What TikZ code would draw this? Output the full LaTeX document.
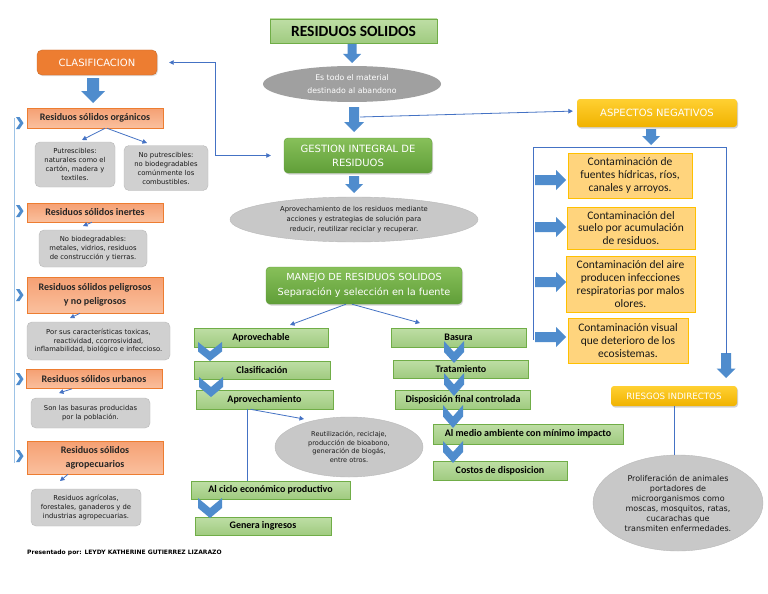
\documentclass[tikz,border=0pt]{standalone}
\usepackage{fontspec}
\setmainfont{Carlito}
\newfontfamily\dv{DejaVu Sans}
\newfontfamily\cb{Carlito}
\usetikzlibrary{shadows,arrows.meta,shapes.geometric}
\definecolor{gborder}{RGB}{112,173,71}
\definecolor{gtop}{RGB}{190,222,165}
\definecolor{gbot}{RGB}{160,203,128}
\definecolor{dgtop}{RGB}{135,192,90}
\definecolor{dgbot}{RGB}{96,158,56}
\definecolor{orangeC}{RGB}{237,125,49}
\definecolor{salmtop}{RGB}{245,160,115}
\definecolor{salmbot}{RGB}{250,192,158}
\definecolor{grayfill}{RGB}{208,208,208}
\definecolor{grayline}{RGB}{185,185,185}
\definecolor{dgray}{RGB}{160,160,160}
\definecolor{lgray}{RGB}{200,200,200}
\definecolor{yelltop}{RGB}{255,208,50}
\definecolor{yellbot}{RGB}{240,178,0}
\definecolor{lorange}{RGB}{255,212,125}
\definecolor{gold}{RGB}{255,192,0}
\definecolor{bluefillC}{RGB}{79,140,205}
\definecolor{lineblue}{RGB}{68,114,196}
\definecolor{lightblue}{RGB}{157,195,230}
\newcommand\bdown[5]{\fill[bluefillC] ({#1-#4},#2) -- ({#1+#4},#2) -- ({#1+#4},{#3-#5}) -- ({#1+#5},{#3-#5}) -- (#1,#3) -- ({#1-#5},{#3-#5}) -- ({#1-#4},{#3-#5}) -- cycle;}
\newcommand\bright[5]{\fill[bluefillC] (#2,{#1-#4}) -- ({#3-#5},{#1-#4}) -- ({#3-#5},{#1-#5}) -- (#3,#1) -- ({#3-#5},{#1+#5}) -- ({#3-#5},{#1+#4}) -- (#2,{#1+#4}) -- cycle;}
\newcommand\chev[4]{\fill[bluefillC] ({#1-#3},#2) -- (#1,{#2+#4*0.5}) -- ({#1+#3},#2) -- ({#1+#3},{#2+#4*0.5}) -- (#1,{#2+#4}) -- ({#1-#3},{#2+#4*0.5}) -- cycle;}
\newcommand\rchev[2]{\fill[bluefillC] (#1,{#2-6}) -- ({#1+3.5},{#2-6}) -- ({#1+7.5},#2) -- ({#1+3.5},{#2+6}) -- (#1,{#2+6}) -- ({#1+4},#2) -- cycle;}
\begin{document}
\begin{tikzpicture}[x=1pt,y=-1pt,
  every node/.style={inner sep=1pt, align=center},
  gbox/.style={rectangle, draw=gborder, line width=0.6pt, top color=gtop, bottom color=gbot, text=black, font={\cb\bfseries\fontsize{10}{11}\selectfont}},
  dgbox/.style={rectangle, rounded corners=4pt, draw=dgbot, top color=dgtop, bottom color=dgbot, text=white, font={\dv\fontsize{10}{14}\selectfont}, drop shadow={opacity=0.35, shadow xshift=1pt, shadow yshift=-1.5pt}},
  sbox/.style={rectangle, draw=orangeC, line width=0.6pt, top color=salmtop, bottom color=salmbot, text=black!85, font={\cb\bfseries\fontsize{10}{14.3}\selectfont}},
  graybox/.style={rectangle, rounded corners=5pt, draw=grayline, fill=grayfill, text=black!90, font={\dv\fontsize{6.8}{9}\selectfont}},
  ell/.style={ellipse, fill=lgray, draw=grayline, text=black!90, font={\dv\fontsize{6.8}{10}\selectfont}, inner sep=0pt},
  obox/.style={rectangle, draw=gold, line width=0.6pt, fill=lorange, text=black!90, font={\cb\fontsize{11.5}{12.7}\selectfont}},
  ybox/.style={rectangle, rounded corners=3pt, top color=yelltop, bottom color=yellbot, text=white, font={\dv\fontsize{10}{11}\selectfont}, drop shadow={opacity=0.35, shadow xshift=1pt, shadow yshift=-1.5pt}},
  conn/.style={draw=lineblue, line width=0.8pt},
  tip/.style={-{Triangle[length=4.5pt,width=4.5pt]}},
]
\path[use as bounding box, fill=white] (0,0) rectangle (768,594);

% ---------------- centre column ----------------
\node[gbox, minimum width=167pt, minimum height=24pt, font={\cb\bfseries\fontsize{15.5}{17}\selectfont}] (title) at (353.5,31) {RESIDUOS SOLIDOS};
\node[ellipse, fill=dgray, text=white, font={\dv\fontsize{7.8}{12.5}\selectfont}, minimum width=178pt, minimum height=36pt, inner sep=0pt] (estodo) at (352,84) {Es todo el material\\destinado al abandono};
\node[dgbox, minimum width=148pt, minimum height=35pt] (gestion) at (358,155.5) {GESTION INTEGRAL DE\\RESIDUOS};
\node[ell, minimum width=248pt, minimum height=45pt] (aprovell) at (354,219.5) {Aprovechamiento de los residuos mediante\\acciones y estrategias de soluci\'on para\\reducir, reutilizar reciclar y recuperar.};
\node[dgbox, minimum width=196pt, minimum height=37pt, font={\dv\fontsize{9.7}{14.5}\selectfont}] (manejo) at (364,285.5) {MANEJO DE RESIDUOS SOLIDOS\\Separaci\'on y selecci\'on en la fuente};

\node[gbox, minimum width=134pt, minimum height=19pt] (aprovb) at (261,337.5) {Aprovechable};
\node[gbox, minimum width=136pt, minimum height=18pt] (clasifb) at (262,370) {Clasificaci\'on};
\node[gbox, minimum width=137pt, minimum height=19pt] (aprovm) at (264.5,399.5) {Aprovechamiento};
\node[ell, minimum width=148pt, minimum height=60pt, font={\dv\fontsize{6.6}{8.8}\selectfont}] (reuse) at (349,447) {Reutilizaci\'on, reciclaje,\\producci\'on de bioabono,\\generaci\'on de biog\'as,\\entre otros.};
\node[gbox, minimum width=159pt, minimum height=18pt] (ciclo) at (270.5,490) {Al ciclo econ\'omico productivo};
\node[gbox, minimum width=136pt, minimum height=18pt] (genera) at (263,526) {Genera ingresos};

\node[gbox, minimum width=135pt, minimum height=19pt] (basura) at (458.5,337.5) {Basura};
\node[gbox, minimum width=135pt, minimum height=18pt] (trat) at (461,369) {Tratamiento};
\node[gbox, minimum width=135pt, minimum height=19pt] (dispo) at (463,399.5) {Disposici\'on final controlada};
\node[gbox, minimum width=190pt, minimum height=20pt] (medio) at (528,434) {Al medio ambiente con m\'inimo impacto};
\node[gbox, minimum width=134pt, minimum height=19pt] (costos) at (500,470.5) {Costos de disposicion};

% ---------------- left column ----------------
\node[rectangle, rounded corners=5pt, fill=orangeC, draw=orangeC!85!black, line width=0.4pt, text=white, font={\dv\fontsize{10}{11}\selectfont}, minimum width=120pt, minimum height=25pt, drop shadow={opacity=0.25, shadow xshift=1pt, shadow yshift=-1.2pt}] (clasif) at (97,62.5) {CLASIFICACION};
\node[sbox, minimum width=136pt, minimum height=20pt] (org) at (95,118) {Residuos s\'olidos org\'anicos};
\node[graybox, minimum width=80pt, minimum height=45pt] (putr) at (75,164.5) {Putrescibles:\\naturales como el\\cart\'on, madera y\\textiles.};
\node[graybox, minimum width=84pt, minimum height=45pt] (noputr) at (166,168) {No putrescibles:\\no biodegradables\\com\'unmente los\\combustibles.};
\node[sbox, minimum width=136pt, minimum height=19pt] (inert) at (95,212.5) {Residuos s\'olidos inertes};
\node[graybox, minimum width=108pt, minimum height=37pt] (inertg) at (93,248.5) {No biodegradables:\\metales, vidrios, residuos\\de construcci\'on y tierras.};
\node[sbox, minimum width=136pt, minimum height=36pt] (pelig) at (95,295) {Residuos s\'olidos peligrosos\\y no peligrosos};
\node[graybox, minimum width=143pt, minimum height=38pt, font={\dv\fontsize{6.8}{8.4}\selectfont}] (peligg) at (98.5,341) {Por sus caracter\'isticas toxicas,\\reactividad, ccorrosividad,\\inflamabilidad, biol\'ogico e infeccioso.};
\node[sbox, minimum width=136pt, minimum height=19pt] (urb) at (94,379) {Residuos s\'olidos urbanos};
\node[graybox, minimum width=119pt, minimum height=30pt] (urbg) at (90.5,413) {Son las basuras producidas\\por la poblaci\'on.};
\node[sbox, minimum width=136pt, minimum height=33pt] (agro) at (95,457.5) {Residuos s\'olidos\\agropecuarios};
\node[graybox, minimum width=110pt, minimum height=37pt] (agrog) at (86,507.5) {Residuos agr\'icolas,\\forestales, ganaderos y de\\industrias agropecuarias.};
\node[anchor=west, inner sep=0pt, text=black, font={\dv\bfseries\fontsize{6}{7}\selectfont}] (footer) at (27,553) {Presentado por: LEYDY KATHERINE GUTIERREZ LIZARAZO};

% ---------------- right column ----------------
\node[ybox, minimum width=160pt, minimum height=28pt] (aspectos) at (657,113) {ASPECTOS NEGATIVOS};
\node[obox, minimum width=124pt, minimum height=45pt] (c1) at (630,175.5) {Contaminaci\'on de\\fuentes h\'idricas, r\'ios,\\canales y arroyos.};
\node[obox, minimum width=128pt, minimum height=42pt] (c2) at (631,228) {Contaminaci\'on del\\suelo por acumulaci\'on\\de residuos.};
\node[obox, minimum width=129pt, minimum height=56pt] (c3) at (630.5,284) {Contaminaci\'on del aire\\producen infecciones\\respiratorias por malos\\olores.};
\node[obox, minimum width=120pt, minimum height=45pt] (c4) at (628,340.5) {Contaminaci\'on visual\\que deterioro de los\\ecosistemas.};
\node[ybox, minimum width=126pt, minimum height=20pt, font={\dv\fontsize{8.7}{10}\selectfont}] (riesgos) at (674,396) {RIESGOS INDIRECTOS};
\node[ell, minimum width=170pt, minimum height=96pt, font={\dv\fontsize{8}{10}\selectfont}] (prolif) at (678,503) {Proliferaci\'on de animales\\portadores de\\microorganismos como\\moscas, mosquitos, ratas,\\cucarachas que\\transmiten enfermedades.};

% ---------------- block arrows and chevrons ----------------
\bdown{352}{44}{63}{4.5}{9}
\bdown{354}{107}{132}{5}{10}
\bdown{354}{176}{193}{5}{9}
\bdown{93}{78}{103}{6}{12}
\bdown{651}{129}{145}{5}{9}
\bdown{726}{353}{378}{5}{9.5}
\bright{180}{535}{566}{5}{10}
\bright{227}{535}{566}{5}{10}
\bright{282}{535}{566}{5}{10}
\bright{337}{535}{566}{5}{10}
\chev{210}{342}{12}{19}
\chev{211}{377}{12}{20}
\chev{210}{498}{12}{20}
\chev{454}{341}{10}{22}
\chev{454}{373}{10}{23}
\chev{453}{405}{10}{23}
\chev{453}{441}{10}{22}
\rchev{16}{123}
\rchev{16}{211}
\rchev{16}{295}
\rchev{16}{379}
\rchev{16}{456}

% ---------------- connectors ----------------
\coordinate (b2r) at (360,117);
\coordinate (m1) at (290,325);
\coordinate (m2) at (420,323);
\coordinate (o1) at (82,140);
\coordinate (o2) at (147,143);
\coordinate (ri) at (83,226);
\coordinate (rp) at (70,318);
\coordinate (ru) at (59,393);
\coordinate (ra) at (60,481);
\coordinate (re) at (304,419);
\coordinate (brtop) at (14,118);
\coordinate (brbot) at (14,463);

\draw[conn, {Triangle[length=4.5pt,width=4.5pt]}-{Triangle[length=4.5pt,width=4.5pt]}, shorten <=12pt, shorten >=13pt] (clasif.east) -- ++(58,0) |- (gestion.west);
\draw[conn, tip, shorten >=4pt] (b2r) -- ([yshift=2pt]aspectos.west);
\draw[conn, tip] ([xshift=-18pt]manejo.south) -- (m1);
\draw[conn, tip] ([xshift=-12pt]manejo.south) -- (m2);
\draw[conn, tip] ([xshift=10pt]org.south) -- (o1);
\draw[conn, tip] ([xshift=12pt]org.south) -- (o2);
\draw[conn, tip] ([xshift=-3pt]inert.south) -- (ri);
\draw[conn, tip] ([xshift=-15pt]pelig.south) -- (rp);
\draw[conn, tip] ([xshift=-22pt]urb.south) -- (ru);
\draw[conn, tip] ([xshift=-27pt]agro.south) -- (ra);
\draw[conn] ([xshift=-17.5pt]aprovm.south) -- ([xshift=-17.5pt]aprovm.south |- ciclo.north);
\draw[conn, tip] ([xshift=-14pt]aprovm.south) -- (re);
\draw[conn] (riesgos.south) -- (riesgos.south |- prolif.north);
\draw[conn] (533,340) -- (533,147) -- (726,147) -- (726,354);
\draw[draw=lightblue, line width=0.9pt] (brtop) -- (brbot);
\end{tikzpicture}
\end{document}
